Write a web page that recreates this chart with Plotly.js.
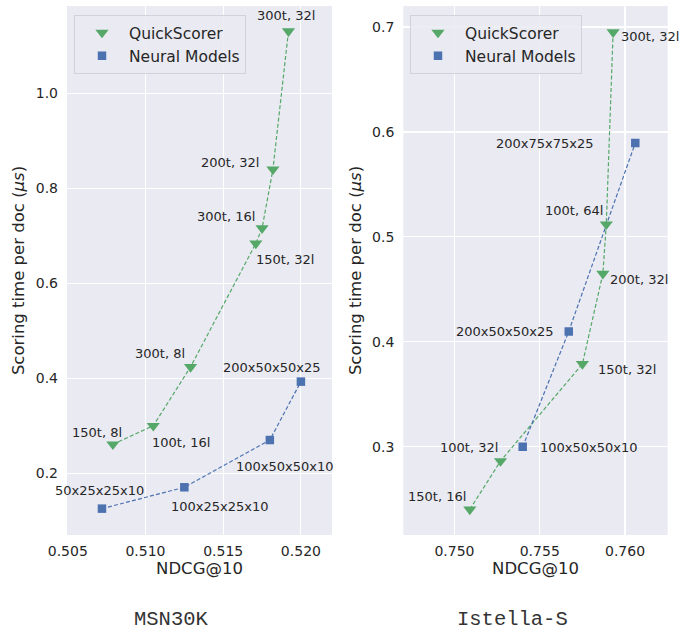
<!DOCTYPE html>
<html>
<head>
<meta charset="utf-8">
<script src="https://cdn.plot.ly/plotly-3.0.1.min.js"></script>
<style>html,body{margin:0;padding:0;background:#fff;}#chart{width:689px;height:633px;}</style>
</head>
<body>
<div id="chart"></div>
<script>
// ---- DATA ----
const msnQsLabels = ["150t, 8l", "100t, 16l", "300t, 8l", "150t, 32l", "300t, 16l", "200t, 32l", "300t, 32l"];
const msnQsX = [0.5079, 0.5105, 0.5129, 0.5171, 0.5175, 0.5182, 0.5192];
const msnQsY = [0.261, 0.300, 0.424, 0.684, 0.716, 0.840, 1.131];

const msnNnLabels = ["50x25x25x10", "100x25x25x10", "100x50x50x10", "200x50x50x25"];
const msnNnX = [0.5072, 0.5125, 0.5180, 0.5200];
const msnNnY = [0.1255, 0.1705, 0.270, 0.393];

const istQsLabels = ["150t, 16l", "100t, 32l", "150t, 32l", "200t, 32l", "100t, 64l", "300t, 32l"];
const istQsX = [0.7509, 0.7527, 0.7575, 0.7587, 0.7589, 0.7593];
const istQsY = [0.2404, 0.2864, 0.379, 0.465, 0.512, 0.695];

const istNnLabels = ["100x50x50x10", "200x50x50x25", "200x75x75x25"];
const istNnX = [0.7540, 0.7567, 0.7606];
const istNnY = [0.300, 0.410, 0.5895];

const seriesNames = ["QuickScorer", "Neural Models"];
const panelNames = ["MSN30K", "Istella-S"];
const xTitle = "NDCG@10";
const yTitle = "Scoring time per doc (<i>μs</i>)";

// ---- label placement (anchor, dx px, dy px down) ----
const msnQsPos = [["right", 11, -12], ["left", -3, 17], ["right", -4, -13], ["left", -2, 16], ["right", -5, -12], ["right", -12, -7], ["center", -2, -16]];
const msnNnPos = [["center", -2, -18], ["left", -15, 19], ["center", 15, 26], ["center", -29, -14]];
const istQsPos = [["right", -2, -13], ["right", -1, -14], ["left", 14, 6], ["left", 5, 6], ["right", -1, -14], ["left", 6, 4]];
const istNnPos = [["left", 15, 1], ["right", -13, 0], ["right", -39, 1]];

// ---- STYLE ----
const green = "#55A868";
const blue = "#4C72B0";
const font = "DejaVu Sans, sans-serif";
const txt = "#262626";

function lineTrace(x, y, color, xa, ya) {
  return {x: x, y: y, xaxis: xa, yaxis: ya, mode: "lines", showlegend: false, hoverinfo: "skip",
    line: {color: color, width: 1.2, dash: "4px,2.2px"}};
}
function markTrace(x, y, color, symbol, size, name, xa, ya, legend) {
  return {x: x, y: y, xaxis: xa, yaxis: ya, mode: "markers", name: name, legend: legend,
    marker: {color: color, symbol: symbol, size: size}};
}

const traces = [
  lineTrace(msnQsX, msnQsY, green, "x", "y"),
  lineTrace(msnNnX, msnNnY, blue, "x", "y"),
  markTrace(msnQsX, msnQsY, green, "triangle-down", 11.5, seriesNames[0], "x", "y", "legend"),
  markTrace(msnNnX, msnNnY, blue, "square", 8.5, seriesNames[1], "x", "y", "legend"),
  lineTrace(istQsX, istQsY, green, "x2", "y2"),
  lineTrace(istNnX, istNnY, blue, "x2", "y2"),
  markTrace(istQsX, istQsY, green, "triangle-down", 11.5, seriesNames[0], "x2", "y2", "legend2"),
  markTrace(istNnX, istNnY, blue, "square", 8.5, seriesNames[1], "x2", "y2", "legend2")
];

const annotations = [];
function addLabels(xs, ys, labels, pos, xref, yref) {
  for (let i = 0; i < xs.length; i++) {
    annotations.push({x: xs[i], y: ys[i], xref: xref, yref: yref, text: labels[i], showarrow: false,
      xanchor: pos[i][0], yanchor: "middle", xshift: pos[i][1], yshift: -pos[i][2],
      font: {family: font, size: 13, color: txt}});
  }
}
addLabels(msnQsX, msnQsY, msnQsLabels, msnQsPos, "x", "y");
addLabels(msnNnX, msnNnY, msnNnLabels, msnNnPos, "x", "y");
addLabels(istQsX, istQsY, istQsLabels, istQsPos, "x2", "y2");
addLabels(istNnX, istNnY, istNnLabels, istNnPos, "x2", "y2");

const panelFont = {family: "Liberation Mono, monospace", size: 20.5, color: "#333"};
annotations.push({xref: "paper", yref: "paper", x: 171.7 / 689, y: 1 - 619 / 633, text: panelNames[0],
  showarrow: false, xanchor: "center", yanchor: "middle", borderpad: 0, font: panelFont});
annotations.push({xref: "paper", yref: "paper", x: 512 / 689, y: 1 - 619 / 633, text: panelNames[1],
  showarrow: false, xanchor: "center", yanchor: "middle", borderpad: 0, font: panelFont});

function xAxis(domain, range, anchor) {
  return {domain: domain, range: range, anchor: anchor, dtick: 0.005, tick0: 0.5, tickformat: ".3f",
    showgrid: true, gridcolor: "#fff", gridwidth: 1.1, zeroline: false, showline: false, ticks: "",
    ticklabelstandoff: 6, tickfont: {family: font, size: 14, color: txt},
    title: {text: xTitle, font: {family: font, size: 16.5, color: txt}, standoff: 4}};
}
function yAxis(domain, range, dtick, anchor) {
  return {domain: domain, range: range, anchor: anchor, dtick: dtick, tick0: 0, tickformat: ".1f",
    showgrid: true, gridcolor: "#fff", gridwidth: 1.1, zeroline: false, showline: false, ticks: "",
    ticklabelstandoff: 8, tickfont: {family: font, size: 14, color: txt},
    title: {text: yTitle, font: {family: font, size: 16.5, color: txt}, standoff: 6}};
}

const yDom = [1 - 535 / 633, 1 - 6 / 633];
const legendStyle = (xpos) => ({x: xpos, y: 1 - 15 / 633, xref: "paper", yref: "paper", xanchor: "left", yanchor: "top",
  bgcolor: "rgba(234,234,242,0.85)", bordercolor: "#d2d2da", borderwidth: 1,
  font: {family: font, size: 15.5, color: txt}, itemwidth: 44, tracegroupgap: 0});

const layout = {
  width: 689, height: 633, margin: {l: 0, r: 0, t: 0, b: 0},
  paper_bgcolor: "#fff", plot_bgcolor: "#EAEAF2",
  font: {family: font, color: txt},
  xaxis: xAxis([67 / 689, 332 / 689], [0.50495, 0.522], "y"),
  yaxis: yAxis(yDom, [0.07, 1.184], 0.2, "x"),
  xaxis2: xAxis([403.3 / 689, 667.7 / 689], [0.747, 0.7625], "y2"),
  yaxis2: yAxis(yDom, [0.216, 0.72], 0.1, "x2"),
  legend: legendStyle(74 / 689),
  legend2: legendStyle(410 / 689),
  annotations: annotations,
  showlegend: true
};

Plotly.newPlot("chart", traces, layout, {staticPlot: true});
</script>
</body>
</html>
